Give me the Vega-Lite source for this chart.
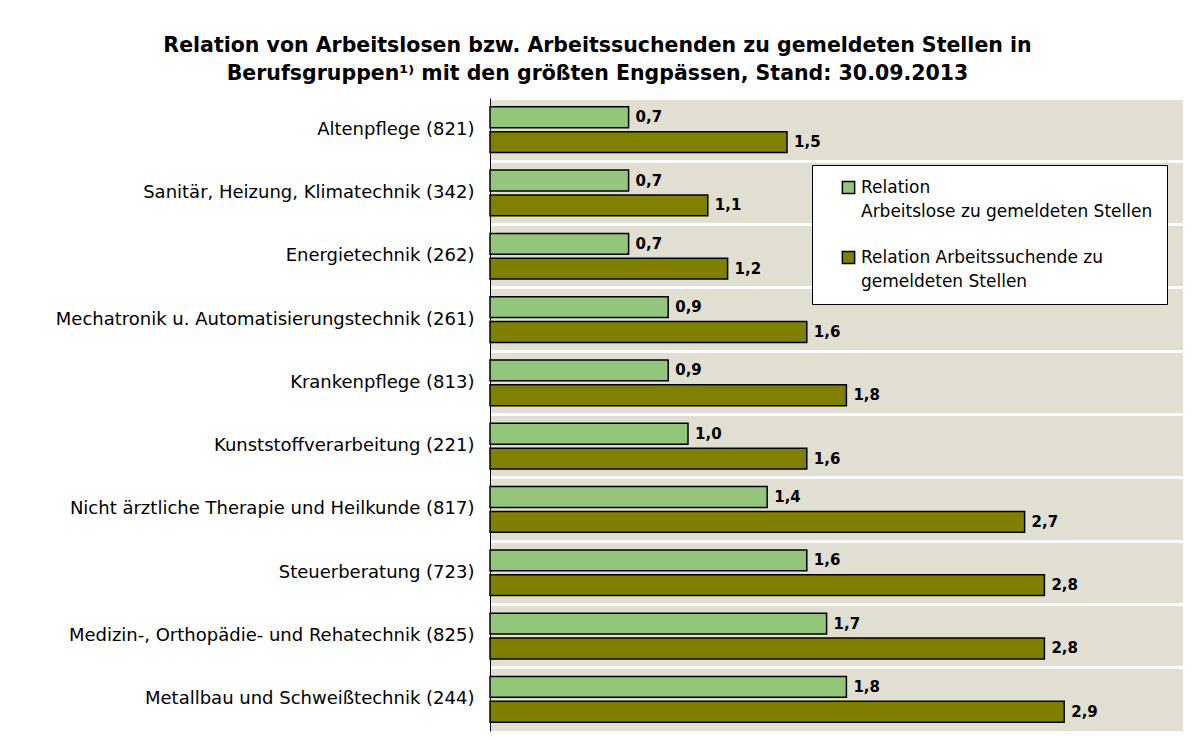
{
  "$schema": "https://vega.github.io/schema/vega-lite/v6.json",
  "width": 693,
  "height": 633,
  "autosize": {"type": "none"},
  "padding": {"left": 490, "top": 98, "right": 13, "bottom": 9},
  "background": "white",
  "config": {
    "locale": {"number": {"decimal": ",", "thousands": ".", "grouping": [3], "currency": ["", " €"]}},
    "view": {"fill": "#e0dfd1", "stroke": null},
    "font": "DejaVu Sans"
  },
  "title": {
    "text": ["Relation von Arbeitslosen bzw. Arbeitssuchenden zu gemeldeten Stellen in", "Berufsgruppen¹⁾ mit den größten Engpässen, Stand: 30.09.2013"],
    "fontSize": 20.5,
    "fontWeight": "bold",
    "color": "black",
    "anchor": "middle",
    "frame": "group",
    "dx": -239,
    "lineHeight": 28,
    "offset": 14
  },
  "data": {
    "values": [
      {"beruf": "Altenpflege (821)", "reihe": "Arbeitslose", "wert": 0.7},
      {"beruf": "Altenpflege (821)", "reihe": "Arbeitssuchende", "wert": 1.5},
      {"beruf": "Sanitär, Heizung, Klimatechnik (342)", "reihe": "Arbeitslose", "wert": 0.7},
      {"beruf": "Sanitär, Heizung, Klimatechnik (342)", "reihe": "Arbeitssuchende", "wert": 1.1},
      {"beruf": "Energietechnik (262)", "reihe": "Arbeitslose", "wert": 0.7},
      {"beruf": "Energietechnik (262)", "reihe": "Arbeitssuchende", "wert": 1.2},
      {"beruf": "Mechatronik u. Automatisierungstechnik (261)", "reihe": "Arbeitslose", "wert": 0.9},
      {"beruf": "Mechatronik u. Automatisierungstechnik (261)", "reihe": "Arbeitssuchende", "wert": 1.6},
      {"beruf": "Krankenpflege (813)", "reihe": "Arbeitslose", "wert": 0.9},
      {"beruf": "Krankenpflege (813)", "reihe": "Arbeitssuchende", "wert": 1.8},
      {"beruf": "Kunststoffverarbeitung (221)", "reihe": "Arbeitslose", "wert": 1.0},
      {"beruf": "Kunststoffverarbeitung (221)", "reihe": "Arbeitssuchende", "wert": 1.6},
      {"beruf": "Nicht ärztliche Therapie und Heilkunde (817)", "reihe": "Arbeitslose", "wert": 1.4},
      {"beruf": "Nicht ärztliche Therapie und Heilkunde (817)", "reihe": "Arbeitssuchende", "wert": 2.7},
      {"beruf": "Steuerberatung (723)", "reihe": "Arbeitslose", "wert": 1.6},
      {"beruf": "Steuerberatung (723)", "reihe": "Arbeitssuchende", "wert": 2.8},
      {"beruf": "Medizin-, Orthopädie- und Rehatechnik (825)", "reihe": "Arbeitslose", "wert": 1.7},
      {"beruf": "Medizin-, Orthopädie- und Rehatechnik (825)", "reihe": "Arbeitssuchende", "wert": 2.8},
      {"beruf": "Metallbau und Schweißtechnik (244)", "reihe": "Arbeitslose", "wert": 1.8},
      {"beruf": "Metallbau und Schweißtechnik (244)", "reihe": "Arbeitssuchende", "wert": 2.9}
    ]
  },
  "encoding": {
    "y": {
      "field": "beruf",
      "type": "nominal",
      "sort": null,
      "scale": {"paddingInner": 0, "paddingOuter": 0},
      "axis": {
        "title": null,
        "domainColor": "black",
        "domainWidth": 1,
        "ticks": false,
        "labelFontSize": 18,
        "labelColor": "black",
        "labelPadding": 16,
        "labelLimit": 600,
        "bandPosition": 0,
        "labelOffset": 0,
        "grid": true,
        "gridColor": "white",
        "gridWidth": 3,
        "gridOpacity": 1
      }
    },
    "yOffset": {
      "field": "reihe",
      "type": "nominal",
      "sort": ["Arbeitslose", "Arbeitssuchende"],
      "scale": {"paddingInner": 0.16, "paddingOuter": 0.354}
    },
    "x": {
      "field": "wert",
      "type": "quantitative",
      "scale": {"domain": [0, 3.5], "nice": false},
      "axis": null
    }
  },
  "layer": [
    {
      "mark": {"type": "bar", "stroke": "black", "strokeWidth": 1.5},
      "encoding": {
        "color": {
          "field": "reihe",
          "type": "nominal",
          "scale": {"domain": ["Arbeitslose", "Arbeitssuchende"], "range": ["#93c57b", "#808000"]},
          "legend": {
            "title": null,
            "orient": "none",
            "legendX": 322,
            "legendY": 67,
            "fillColor": "white",
            "strokeColor": "black",
            "padding": 14,
            "symbolType": "square",
            "symbolSize": 150,
            "symbolStrokeColor": "black",
            "symbolStrokeWidth": 1.5,
            "symbolOffset": 14,
            "labelFontSize": 17,
            "labelColor": "black",
            "labelLimit": 400,
            "rowPadding": 28,
            "labelExpr": "datum.label == 'Arbeitslose' ? ['Relation', 'Arbeitslose zu gemeldeten Stellen'] : ['Relation Arbeitssuchende zu', 'gemeldeten Stellen']",
            "encode": {"labels": {"update": {"lineHeight": {"value": 24}}}}
          }
        }
      }
    },
    {
      "mark": {"type": "text", "align": "left", "baseline": "middle", "dx": 7, "fontWeight": "bold", "fontSize": 15, "color": "black"},
      "encoding": {"text": {"field": "wert", "type": "quantitative", "format": ".1f"}}
    }
  ]
}
